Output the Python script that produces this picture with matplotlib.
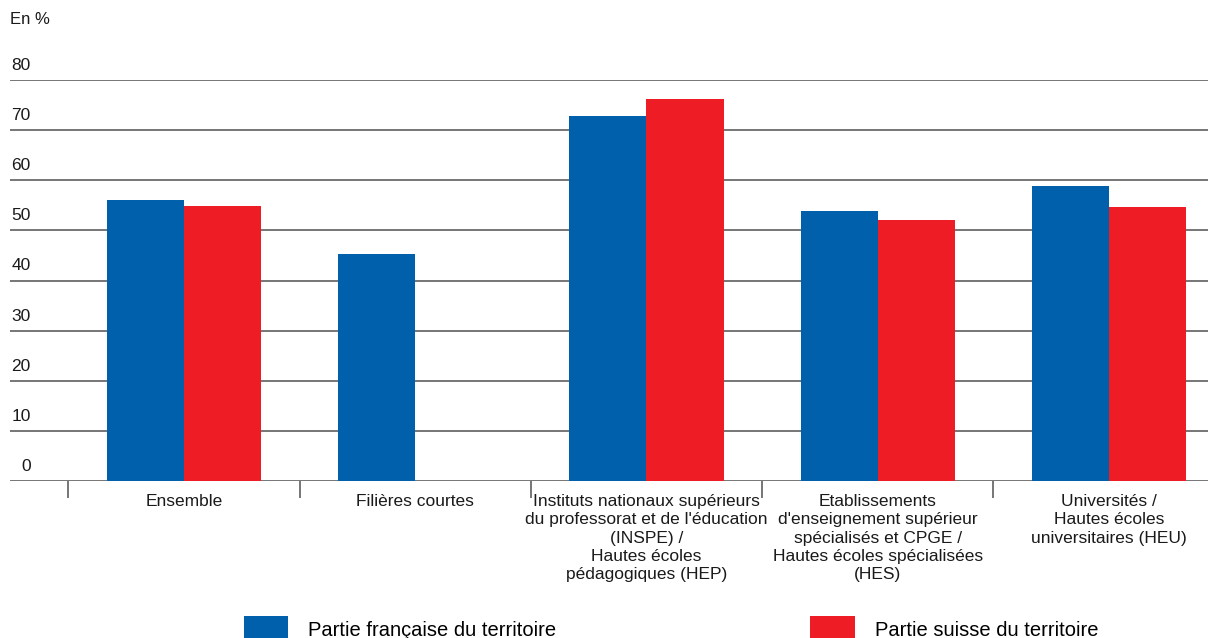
import matplotlib
matplotlib.use("Agg")
import matplotlib.pyplot as plt
import numpy as np

plt.rcParams["font.family"] = ["Liberation Sans", "DejaVu Sans"]

categories = [
    "Ensemble",
    "Filières courtes",
    "Instituts nationaux supérieurs\ndu professorat et de l'éducation\n(INSPE) /\nHautes écoles\npédagogiques (HEP)",
    "Etablissements\nd'enseignement supérieur\nspécialisés et CPGE /\nHautes écoles spécialisées\n(HES)",
    "Universités /\nHautes écoles\nuniversitaires (HEU)",
]
francaise = [56.1, 45.3, 72.9, 53.9, 58.8]
suisse = [54.9, np.nan, 76.2, 52.0, 54.7]
series_labels = ["Partie française du territoire", "Partie suisse du territoire"]
yticks = [0, 10, 20, 30, 40, 50, 60, 70, 80]

BLUE = "#0060AC"
RED = "#EE1C25"
GRID = "#5f5f5f"

W, H = 1208, 638
fig = plt.figure(figsize=(W / 100, H / 100), dpi=100)
ax = fig.add_axes([10 / W, 1 - 481 / H, (1208 - 10) / W, (481 - 80) / H])

x = np.arange(len(categories))
bw = 1 / 3
ax.bar(x - bw / 2, francaise, width=bw, color=BLUE, zorder=3, label=series_labels[0])
ax.bar(x + bw / 2, suisse, width=bw, color=RED, zorder=3, label=series_labels[1])

ax.set_xlim(-0.752, 4.428)
ax.set_ylim(0, 80)
for s in ax.spines.values():
    s.set_visible(False)

# gridlines with labels sitting above them on the left
for v in yticks:
    ax.axhline(v, color=GRID, lw=1.2, zorder=1)
    ax.text(21 / W, v + 1.4, str(v), transform=ax.get_yaxis_transform(),
            ha="right", va="bottom", fontsize=12.5, color="#1a1a1a")
ax.set_yticks([])

# separators between categories
ax.set_xticks(x - 0.5)
ax.tick_params(axis="x", which="major", length=12, width=1.2, color=GRID,
               labelbottom=False, direction="out")
for i, c in enumerate(categories):
    ax.text(i, -2.6, c, ha="center", va="top", fontsize=12.5, linespacing=1.27,
            color="#1a1a1a")

fig.text(10 / W, 1 - 20 / H, "En %", ha="left", va="center", fontsize=12, color="#1a1a1a")

fig.legend(loc="upper left", bbox_to_anchor=(244 / W, 1 - 616 / H), ncol=2,
           frameon=False, fontsize=14.5, handlelength=2.2, handleheight=1.6,
           handletextpad=1.0, columnspacing=12.6, borderaxespad=0, borderpad=0)

fig.savefig("out.png", dpi=100)
